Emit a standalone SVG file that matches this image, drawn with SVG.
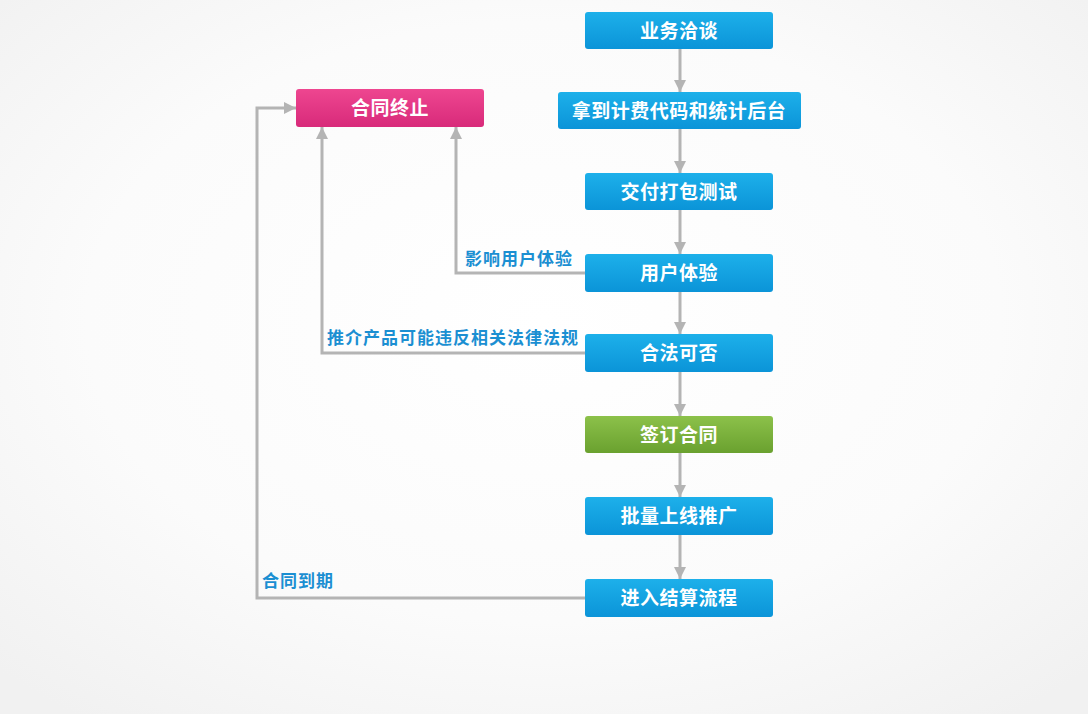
<svg xmlns="http://www.w3.org/2000/svg" width="1088" height="714" viewBox="0 0 1088 714">
<defs>
<radialGradient id="bg" cx="0.5" cy="0.45" r="0.7">
<stop offset="0" stop-color="#ffffff"/>
<stop offset="0.6" stop-color="#fbfbfb"/>
<stop offset="1" stop-color="#f1f1f1"/>
</radialGradient>
<linearGradient id="blue" x1="0" y1="0" x2="0" y2="1">
<stop offset="0" stop-color="#1db0ea"/>
<stop offset="1" stop-color="#0b94d8"/>
</linearGradient>
<linearGradient id="green" x1="0" y1="0" x2="0" y2="1">
<stop offset="0" stop-color="#8cc14a"/>
<stop offset="1" stop-color="#6aa12f"/>
</linearGradient>
<linearGradient id="pink" x1="0" y1="0" x2="0" y2="1">
<stop offset="0" stop-color="#ee4690"/>
<stop offset="1" stop-color="#d82a7a"/>
</linearGradient>
<marker id="ah" viewBox="0 0 10 10" refX="10" refY="5" markerWidth="4" markerHeight="4" orient="auto" markerUnits="strokeWidth">
<path d="M0,0 L10,5 L0,10 Z" fill="#b4b4b4"/>
</marker>
</defs>
<style>
.box{stroke:none}
.bt{font-family:"Liberation Sans","Noto Sans CJK SC",sans-serif;font-size:19px;font-weight:bold;fill:#ffffff;text-anchor:middle;letter-spacing:0.5px}
.lt{font-family:"Liberation Sans","Noto Sans CJK SC",sans-serif;font-size:17px;font-weight:bold;fill:#1b8fd2;letter-spacing:1px}
.c{fill:none;stroke:#b4b4b4;stroke-width:3;marker-end:url(#ah)}
</style>
<rect width="1088" height="714" fill="url(#bg)"/>
<g id="connectors">
<path class="c" d="M680,49 V92"/>
<path class="c" d="M680,129 V173"/>
<path class="c" d="M680,210 V254"/>
<path class="c" d="M680,292 V334"/>
<path class="c" d="M680,372 V416"/>
<path class="c" d="M680,453 V497"/>
<path class="c" d="M680,535 V579"/>
<path class="c" d="M585,273 H456 V127"/>
<path class="c" d="M585,353 H322 V127"/>
<path class="c" d="M585,598 H257 V108 H296"/>
</g>
<g id="labels">
<text class="lt" x="465" y="265">影响用户体验</text>
<text class="lt" x="327" y="344">推介产品可能违反相关法律法规</text>
<text class="lt" x="262" y="587">合同到期</text>
</g>
<g id="n1"><rect class="box" x="585" y="12" width="188" height="37" rx="3" fill="url(#blue)"/><text class="bt" x="679" y="38">业务洽谈</text></g>
<g id="n2"><rect class="box" x="558" y="92" width="243" height="37" rx="3" fill="url(#blue)"/><text class="bt" x="679" y="118">拿到计费代码和统计后台</text></g>
<g id="n3"><rect class="box" x="585" y="173" width="188" height="37" rx="3" fill="url(#blue)"/><text class="bt" x="679" y="199">交付打包测试</text></g>
<g id="n4"><rect class="box" x="585" y="254" width="188" height="38" rx="3" fill="url(#blue)"/><text class="bt" x="679" y="280">用户体验</text></g>
<g id="n5"><rect class="box" x="585" y="334" width="188" height="38" rx="3" fill="url(#blue)"/><text class="bt" x="679" y="360">合法可否</text></g>
<g id="n6"><rect class="box" x="585" y="416" width="188" height="37" rx="3" fill="url(#green)"/><text class="bt" x="679" y="442">签订合同</text></g>
<g id="n7"><rect class="box" x="585" y="497" width="188" height="38" rx="3" fill="url(#blue)"/><text class="bt" x="679" y="523">批量上线推广</text></g>
<g id="n8"><rect class="box" x="585" y="579" width="188" height="38" rx="3" fill="url(#blue)"/><text class="bt" x="679" y="605">进入结算流程</text></g>
<g id="n9"><rect class="box" x="296" y="89" width="188" height="38" rx="3" fill="url(#pink)"/><text class="bt" x="390" y="115">合同终止</text></g>
</svg>
